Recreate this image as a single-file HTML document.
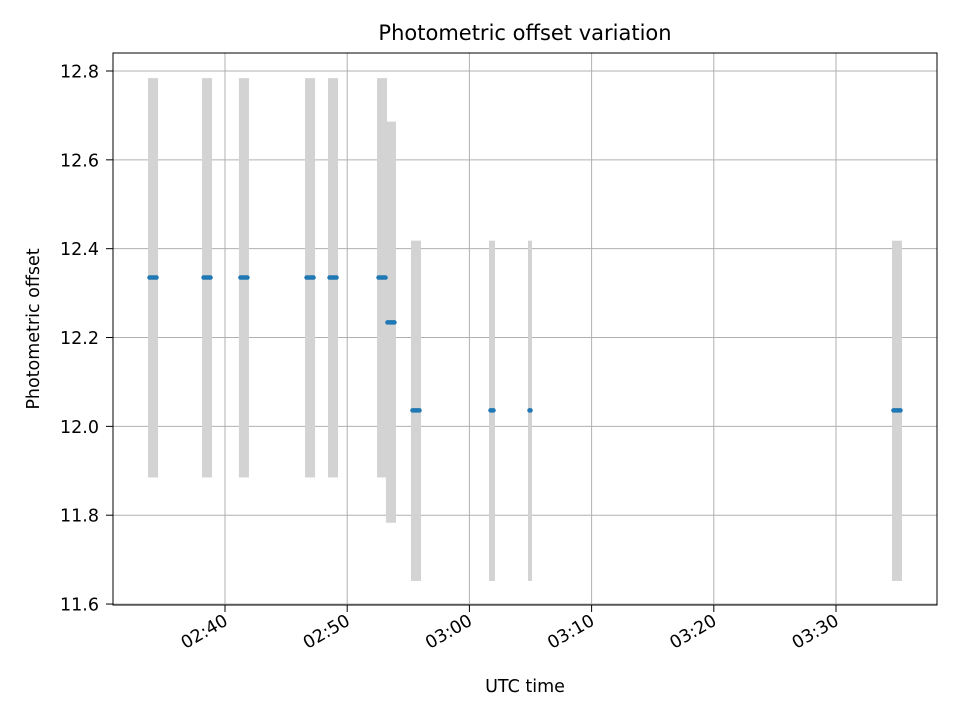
<!DOCTYPE html>
<html><head><meta charset="utf-8"><style>
body{margin:0;background:#fff;}
svg text{font-family:"DejaVu Sans","Liberation Sans",sans-serif;fill:#000;}
</style></head><body>
<svg id="chart" width="960" height="720" xmlns="http://www.w3.org/2000/svg">
<rect width="960" height="720" fill="#fff"/>
<text x="525" y="40" style="font-size:21px" text-anchor="middle">Photometric offset variation</text>
<text x="525" y="692" style="font-size:17.5px" text-anchor="middle">UTC time</text>
<text x="39" y="329" style="font-size:17.5px" text-anchor="middle" transform="rotate(-90 39 329)">Photometric offset</text>
<g id="grid"></g><g id="bars"></g><g id="pts"></g><g id="ticks"></g>
<rect x="113" y="53" width="824" height="552" fill="none" stroke="#000" stroke-width="1"/>
</svg>
<script>
// times: minutes after 02:00 UTC
const times = [34.11, 38.53, 41.55, 46.96, 48.84, 52.85, 53.58, 55.63, 61.85, 64.96, 94.99];
const durations = [0.82, 0.82, 0.82, 0.82, 0.82, 0.82, 0.82, 0.82, 0.49, 0.33, 0.82];
const offsets = [12.335, 12.335, 12.335, 12.335, 12.335, 12.335, 12.234, 12.036, 12.036, 12.036, 12.036];
const upper = [12.784, 12.784, 12.784, 12.784, 12.784, 12.784, 12.686, 12.418, 12.418, 12.418, 12.418];
const lower = [11.885, 11.885, 11.885, 11.885, 11.885, 11.885, 11.783, 11.652, 11.652, 11.652, 11.652];
const xTicks = [40, 50, 60, 70, 80, 90];
const xTickLabels = ["02:40", "02:50", "03:00", "03:10", "03:20", "03:30"];
const yTicks = [11.6, 11.8, 12.0, 12.2, 12.4, 12.6, 12.8];

const NS = "http://www.w3.org/2000/svg";
const X = m => 225 + (m - 40) * 12.22;
const Y = v => 71 + (12.8 - v) * 444.2;
function mk(tag, attrs, parent){const e=document.createElementNS(NS,tag);for(const k in attrs)e.setAttribute(k,attrs[k]);parent.appendChild(e);return e;}
const grid=document.getElementById('grid'),bars=document.getElementById('bars'),pts=document.getElementById('pts'),ticks=document.getElementById('ticks');

xTicks.forEach((t,i)=>{
  const x=X(t);
  const g=mk('line',{x1:x,x2:x,y1:53,y2:605,stroke:'#b0b0b0','stroke-width':1},grid);
  
  
  const tk=mk('line',{x1:x,x2:x,y1:605,y2:612,stroke:'#000'},ticks);
  
  
  const tx=mk('text',{x:x+4,y:624,style:'font-size:17.5px','text-anchor':'end',transform:`rotate(-30 ${x+4} 624)`},ticks);
  tx.textContent=xTickLabels[i];
  
  
});
yTicks.forEach(v=>{
  const y=Y(v);
  const g=mk('line',{x1:113,x2:937,y1:y,y2:y,stroke:'#b0b0b0','stroke-width':1},grid);
  
  
  const tk=mk('line',{x1:106,x2:113,y1:y,y2:y,stroke:'#000'},ticks);
  
  
  const tx=mk('text',{x:99,y:y+6.5,style:'font-size:17.5px','text-anchor':'end'},ticks);
  tx.textContent=v.toFixed(1);
  
  
});
times.forEach((t,i)=>{
  const x0=X(t-durations[i]/2),x1=X(t+durations[i]/2);
  const r=mk('rect',{x:x0,y:Y(upper[i]),width:x1-x0,height:Y(lower[i])-Y(upper[i]),fill:'#d3d3d3'},bars);
  
  
  const w=x1-x0, inset=Math.min(1.5,w/2);
  const l=mk('line',{x1:x0+inset,x2:x1-inset,y1:Y(offsets[i]),y2:Y(offsets[i]),stroke:'#1f77b4','stroke-width':4.5,'stroke-linecap':'round'},pts);
  
  
});
</script>
</body></html>
